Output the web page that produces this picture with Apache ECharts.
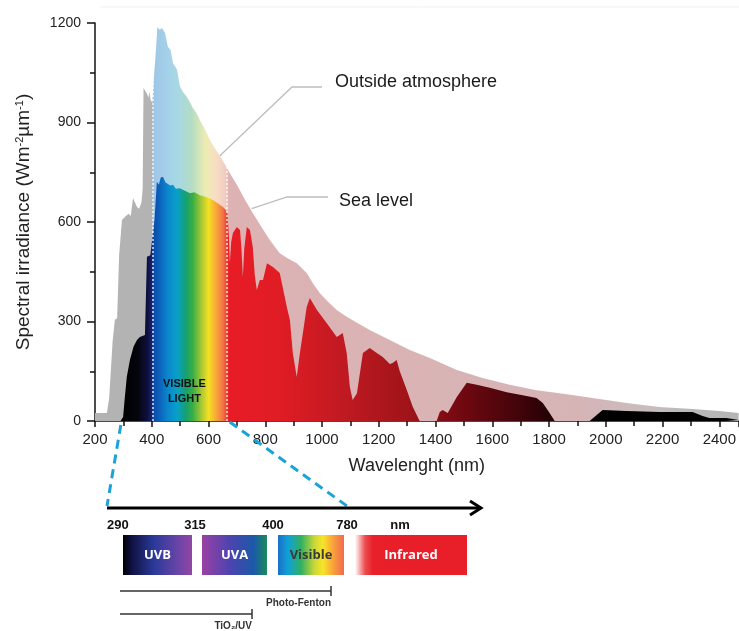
<!DOCTYPE html>
<html>
<head>
<meta charset="utf-8">
<script src="https://cdn.jsdelivr.net/npm/echarts@6/dist/echarts.min.js"></script>
<style>html,body{margin:0;padding:0;background:#fff}#c{width:739px;height:631px}</style>
</head>
<body>
<div id="c"></div>
<script>
// ---- data ----
const outerNm  = [200,242,250,262,270,278,285,295,305,318,326,334,340,348,356,364,368,371,378,384,388,392,396,402,408,414,420,428,436,447,457,466,475,489,499,510,524,535,545,558,570,588,605,622,640,660,680,700,728,756,786,816,851,880,911,946,970,992,1020,1052,1080,1108,1168,1239,1309,1380,1475,1566,1661,1756,1850,1954,2073,2189,2306,2400,2468];
const outerVal = [24,24,70,240,305,310,500,606,615,625,618,672,660,645,640,660,700,1004,1000,985,975,992,968,960,1040,1110,1188,1180,1185,1170,1128,1120,1079,1060,1010,992,977,960,944,928,907,878,847,822,800,770,740,712,668,627,586,546,506,490,476,446,412,386,360,335,318,304,274,244,214,190,154,130,109,93,82,69,54,42,36,30,24];

const seaNm  = [290,299,305,312,323,336,348,358,376,381,383,395,402,410,418,425,432,440,448,455,465,475,485,499,515,535,550,570,590,616,635,651,660,667,672,675,680,686,700,711,716,721,726,735,746,756,763,770,781,792,806,827,851,876,887,897,911,922,935,946,957,982,1017,1052,1073,1087,1098,1108,1123,1144,1168,1193,1214,1239,1249,1263,1274,1299,1320,1344,1404,1415,1425,1443,1475,1510,1545,1591,1651,1707,1756,1778,1802,1820,1943,1968,1989,2073,2189,2306,2341,2365,2425,2468];
const seaVal = [0,12,70,133,184,225,244,253,259,262,495,500,500,610,721,712,735,736,720,725,710,712,700,702,695,687,690,681,676,666,655,645,637,627,555,476,540,567,585,576,520,434,520,585,576,525,440,395,425,425,476,464,446,344,304,205,133,205,280,344,371,335,295,253,265,205,103,63,84,205,220,205,193,172,175,184,150,93,42,0,0,27,33,24,72,115,109,100,87,78,69,54,24,0,0,18,33,30,27,27,15,9,9,3];

const visibleBounds = [402, 665];      // white dotted boundaries (nm)
const visibleTops   = [1030, 770];     // their heights on the outer curve

const xTicks = {min: 200, max: 2468, interval: 200};
const yTicks = {min: 0, max: 1200, interval: 300};

const bandTicks  = ['290', '315', '400', '780', 'nm'];
const bandNames  = ['UVB', 'UVA', 'Visible', 'Infrared'];
const rangeNames = ['Photo-Fenton', 'TiO₂/UV'];

// ---- colour stops (nm -> colour) ----
const outerStops = [[200,'#b3b3b3'],[402,'#b3b3b3'],[404,'#9dc6e6'],[450,'#a4d0ea'],[495,'#a8d8e4'],[540,'#b3dcc4'],[590,'#eeecb2'],[630,'#f7dcc4'],[662,'#f1c9c1'],[672,'#ddb2b3'],[1900,'#d6b4b6'],[2150,'#c8bdbd'],[2300,'#b9b9b9'],[2468,'#b5b5b5']];
const seaStops = [[290,'#000000'],[350,'#04040c'],[385,'#0e1040'],[401,'#1a226a'],[404,'#0a48a8'],[430,'#0c64bc'],[455,'#0a86cc'],[490,'#08a0c8'],[520,'#16a070'],[545,'#3aae44'],[575,'#a8c834'],[600,'#f4e024'],[628,'#f8a43a'],[652,'#f27048'],[666,'#ea3a2c'],[672,'#e81c26'],[850,'#e01c24'],[1050,'#c41a22'],[1300,'#a0141a'],[1500,'#700810'],[1700,'#40040a'],[1850,'#160002'],[1950,'#000000'],[2468,'#000000']];

function grad(stops) {
  const a = stops[0][0], b = stops[stops.length - 1][0];
  return new echarts.graphic.LinearGradient(0, 0, 1, 0,
    stops.map(s => ({offset: (s[0] - a) / (b - a), color: s[1]})));
}
const zip = (xs, ys) => xs.map((x, i) => [x, ys[i]]);

const chart = echarts.init(document.getElementById('c'), null, {renderer: 'canvas'});
const FONT = '"Liberation Sans", Arial, sans-serif';

chart.setOption({
  animation: false,
  grid: {left: 95, right: 0, top: 23, bottom: 210},
  xAxis: {
    type: 'value', min: xTicks.min, max: xTicks.max, interval: xTicks.interval,
    splitLine: {show: false},
    axisLine: {lineStyle: {color: '#111', width: 1.5}},
    axisTick: {length: 6, lineStyle: {color: '#111', width: 1.5}},
    minorTick: {show: true, splitNumber: 2, length: 5, lineStyle: {color: '#111', width: 1.5}},
    axisLabel: {color: '#222', fontSize: 15, fontFamily: FONT, margin: 11, showMaxLabel: false,
      formatter: v => (v % 200 === 0 ? String(v) : '')},
    name: 'Wavelenght (nm)', nameLocation: 'middle', nameGap: 36,
    nameTextStyle: {fontSize: 18, color: '#222', fontFamily: FONT}
  },
  yAxis: {
    type: 'value', min: yTicks.min, max: yTicks.max, interval: yTicks.interval,
    splitLine: {show: false},
    axisLine: {show: true, lineStyle: {color: '#111', width: 1.5}},
    axisTick: {show: true, length: 8, lineStyle: {color: '#111', width: 1.5}},
    minorTick: {show: true, splitNumber: 2, length: 5, lineStyle: {color: '#111', width: 1.5}},
    axisLabel: {color: '#222', fontSize: 14, fontFamily: FONT, margin: 14, formatter: v => String(v)},
    name: 'Spectral irradiance (Wm{sup|-2}µm{sup|-1})', nameLocation: 'middle', nameGap: 62, nameRotate: 90,
    nameTextStyle: {fontSize: 19, color: '#222', fontFamily: FONT,
      rich: {sup: {fontSize: 11, color: '#222', fontFamily: FONT, verticalAlign: 'top', padding: [0, 0, 8, 0]}}}
  },
  series: [
    {
      name: 'Outside atmosphere', type: 'line', data: zip(outerNm, outerVal),
      showSymbol: false, lineStyle: {width: 0}, areaStyle: {color: grad(outerStops), opacity: 1},
      z: 1
    },
    {
      name: 'Sea level', type: 'line', data: zip(seaNm, seaVal),
      showSymbol: false, lineStyle: {width: 0}, areaStyle: {color: grad(seaStops), opacity: 1},
      z: 2
    },
    {
      name: 'bounds', type: 'line', data: [], z: 5,
      markLine: {
        silent: true, symbol: 'none', label: {show: false},
        lineStyle: {color: '#ffffff', type: [2, 2], width: 1.5, opacity: 0.85},
        data: visibleBounds.map((nm, i) => [{coord: [nm, 0]}, {coord: [nm, visibleTops[i]]}])
      }
    }
  ]
});

// ---- annotations ----
const p290 = chart.convertToPixel({xAxisIndex: 0, yAxisIndex: 0}, [291, 0]);
const p680 = chart.convertToPixel({xAxisIndex: 0, yAxisIndex: 0}, [675, 0]);
const pOut = chart.convertToPixel({xAxisIndex: 0, yAxisIndex: 0}, [640, 800]);
const pSea = chart.convertToPixel({xAxisIndex: 0, yAxisIndex: 0}, [752, 640]);
const pVis = chart.convertToPixel({xAxisIndex: 0, yAxisIndex: 0}, [515, 60]);

const BFONT = '"Liberation Sans", Arial, sans-serif';
const leader = '#bdbdbd';
const g = [];
// faint frame line at top
g.push({type: 'line', shape: {x1: 100, y1: 7, x2: 739, y2: 7}, style: {stroke: '#f1f1f1', lineWidth: 1}, silent: true});
// leaders
g.push({type: 'polyline', shape: {points: [pOut, [292, 87], [322, 87]]}, style: {stroke: leader, lineWidth: 1.3, fill: null}, z: 20});
g.push({type: 'polyline', shape: {points: [pSea, [287, 197], [328, 197]]}, style: {stroke: leader, lineWidth: 1.3, fill: null}, z: 20});
g.push({type: 'text', x: 335, y: 82, style: {text: 'Outside atmosphere', font: '18px ' + FONT, fill: '#1a1a1a', verticalAlign: 'middle'}, z: 20});
g.push({type: 'text', x: 339, y: 201, style: {text: 'Sea level', font: '18px ' + FONT, fill: '#1a1a1a', verticalAlign: 'middle'}, z: 20});
// visible light label
g.push({type: 'text', x: pVis[0], y: 384, style: {text: 'VISIBLE', font: 'bold 11px ' + FONT, fill: '#111', align: 'center', verticalAlign: 'middle'}, z: 20});
g.push({type: 'text', x: pVis[0], y: 399, style: {text: 'LIGHT', font: 'bold 11px ' + FONT, fill: '#111', align: 'center', verticalAlign: 'middle'}, z: 20});
// cyan dashed zoom lines
g.push({type: 'line', shape: {x1: p290[0], y1: p290[1] + 4, x2: 107, y2: 506}, style: {stroke: '#1aa3d9', lineWidth: 3, lineDash: [9, 6]}, z: 20});
g.push({type: 'line', shape: {x1: p680[0], y1: p680[1] + 1, x2: 347, y2: 506}, style: {stroke: '#1aa3d9', lineWidth: 3, lineDash: [9, 6]}, z: 20});
// arrow
g.push({type: 'line', shape: {x1: 107, y1: 508, x2: 480, y2: 508}, style: {stroke: '#000', lineWidth: 3}, z: 20});
g.push({type: 'polyline', shape: {points: [[470, 501], [481, 508], [470, 515]]}, style: {stroke: '#000', lineWidth: 3, fill: null}, z: 20});
// band tick labels
const tickX = [107, 195, 273, 347, 400];
bandTicks.forEach((t, i) => g.push({type: 'text', x: tickX[i], y: 525,
  style: {text: t, font: 'bold 13px ' + BFONT, fill: '#111', align: i === 0 ? 'left' : 'center', verticalAlign: 'middle'}, z: 20}));
// band boxes
const boxes = [
  {x: 123, w: 69, stops: [[0, '#000000'], [0.12, '#101040'], [0.45, '#2a3a9a'], [0.8, '#6a44a8'], [1, '#9446a4']], c: '#ffffff'},
  {x: 202, w: 65, stops: [[0, '#9a40a4'], [0.45, '#4a44b0'], [0.8, '#1a5aa8'], [1, '#1c8a5c']], c: '#ffffff'},
  {x: 278, w: 66, stops: [[0, '#1a6fc8'], [0.15, '#10a0d8'], [0.35, '#30b060'], [0.55, '#c8d838'], [0.68, '#f8e428'], [0.85, '#f89c3c'], [1, '#f06a50']], c: '#3a3a3a'},
  {x: 355, w: 112, stops: [[0, '#ffffff'], [0.09, '#ec4c50'], [0.16, '#e8202a'], [1, '#e81e28']], c: '#ffffff'}
];
boxes.forEach((b, i) => {
  g.push({type: 'rect', shape: {x: b.x, y: 535, width: b.w, height: 40},
    style: {fill: new echarts.graphic.LinearGradient(0, 0, 1, 0, b.stops.map(s => ({offset: s[0], color: s[1]})))}, z: 20});
  g.push({type: 'text', x: b.x + b.w / 2, y: 555,
    style: {text: bandNames[i], font: 'bold 13px "Open Sans", ' + BFONT, fill: b.c, align: 'center', verticalAlign: 'middle'}, z: 21});
});
// ranges
const ranges = [{y: 591, x2: 331}, {y: 614, x2: 252}];
ranges.forEach((r, i) => {
  g.push({type: 'line', shape: {x1: 120, y1: r.y, x2: r.x2, y2: r.y}, style: {stroke: '#333', lineWidth: 1.5}, z: 20});
  g.push({type: 'line', shape: {x1: r.x2, y1: r.y - 5, x2: r.x2, y2: r.y + 5}, style: {stroke: '#333', lineWidth: 1.5}, z: 20});
  g.push({type: 'text', x: r.x2, y: r.y + 12,
    style: {text: rangeNames[i], font: 'bold 10px ' + BFONT, fill: '#333', align: 'right', verticalAlign: 'middle'}, z: 20});
});
chart.setOption({graphic: {elements: g}});
</script>
</body>
</html>
